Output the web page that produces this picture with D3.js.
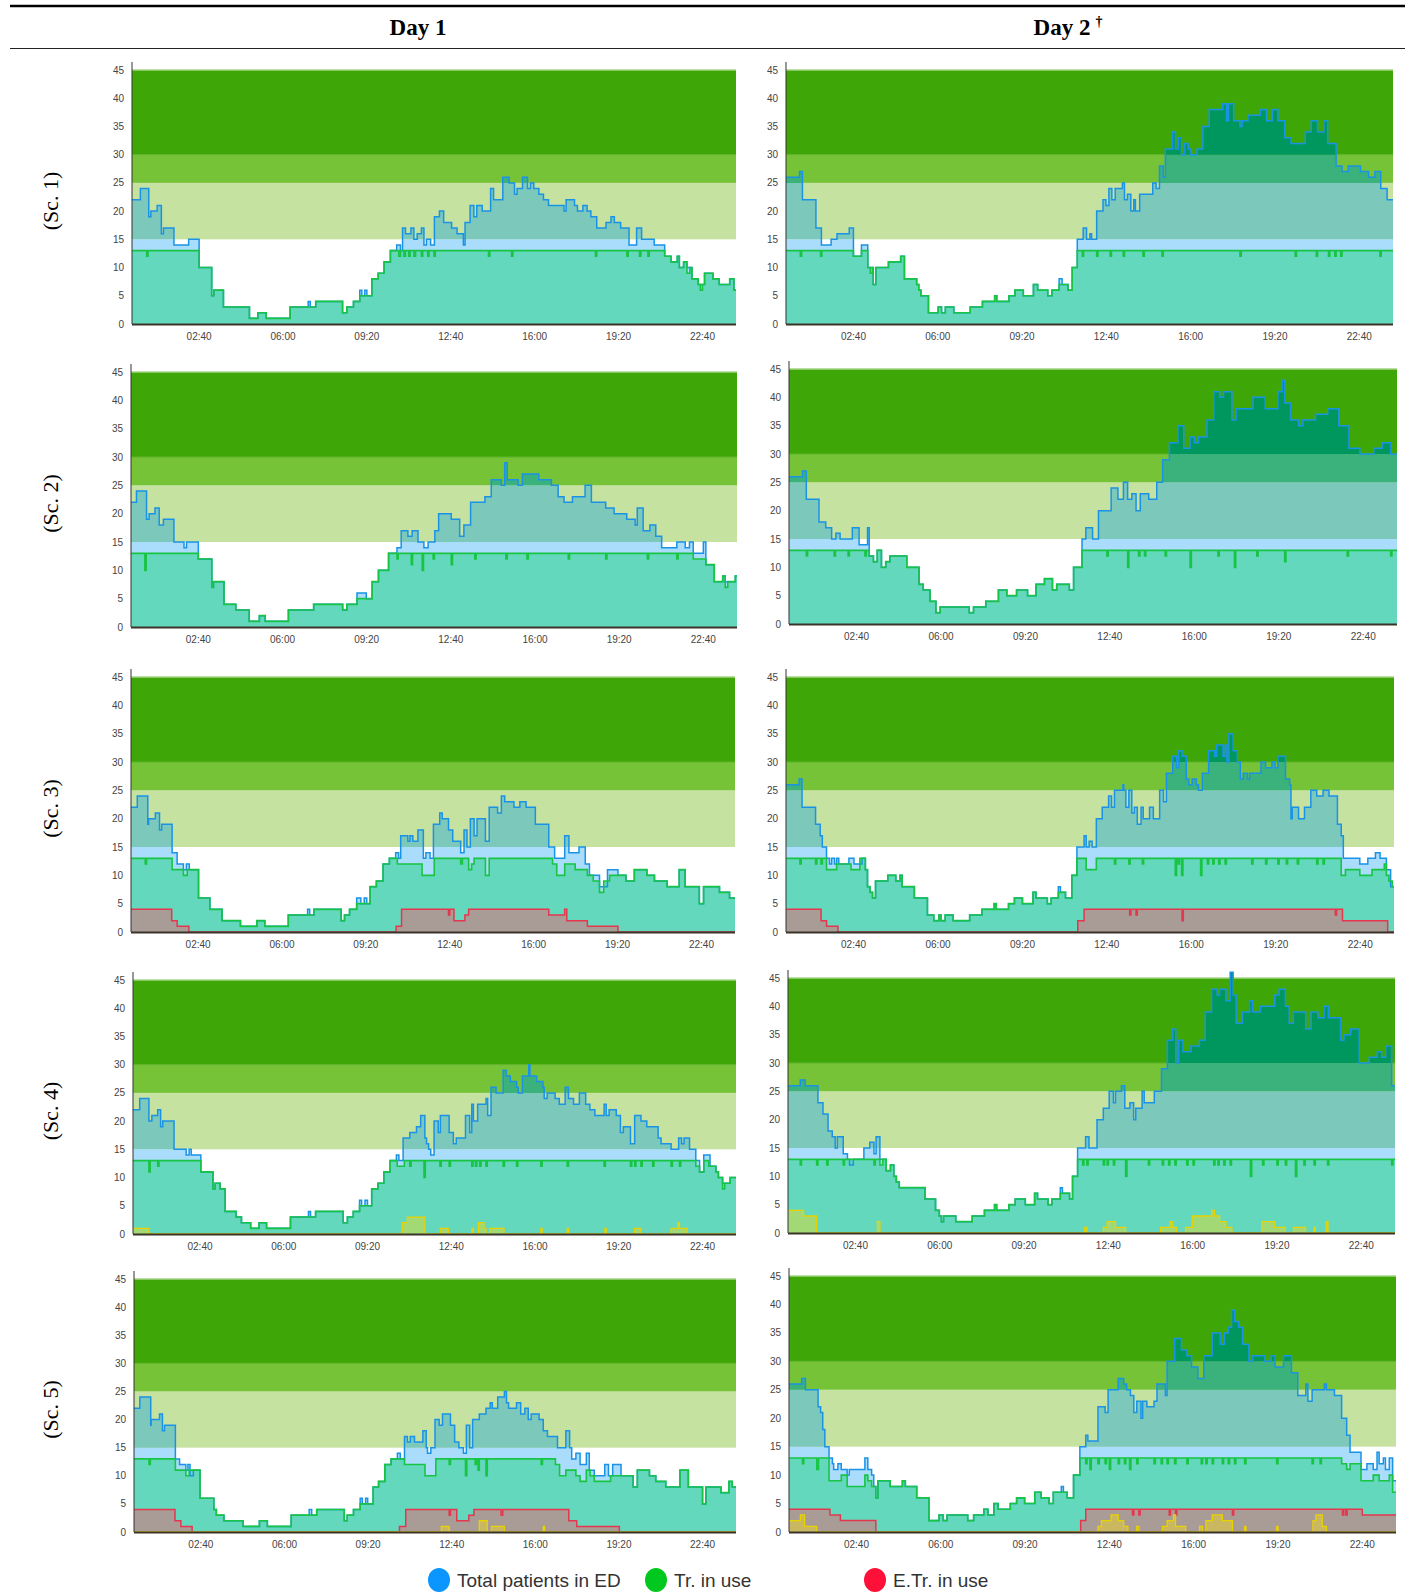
<!DOCTYPE html>
<html>
<head>
<meta charset="utf-8">
<script src="https://cdn.jsdelivr.net/npm/d3@7"></script>
<style>
  body { margin: 0; background: #fff; }
  svg { display: block; }
</style>
</head>
<body>
<svg id="chart"></svg>
<script>
const width = 1410;
const height = 1593;

// ---- labels ----
const dayLabels = ["Day 1", "Day 2"];
const scenarioLabels = ["(Sc. 1)", "(Sc. 2)", "(Sc. 3)", "(Sc. 4)", "(Sc. 5)"];
const legendLabels = ["Total patients in ED", "Tr. in use", "E.Tr. in use"];
const yTicks = [0, 5, 10, 15, 20, 25, 30, 35, 40, 45];
const xTickMinutes = [160, 360, 560, 760, 960, 1160, 1360];
const xTickLabels = ["02:40", "06:00", "09:20", "12:40", "16:00", "19:20", "22:40"];
const bandLimits = [0, 15, 25, 30, 45];

// ---- series: [minute of day, value] change points (step after) ----
const sc1Day1Total = [[0,22],[20,24],[40,19],[45,20],[60,21],[70,16],[75,17],[100,14],[135,15],[160,10],[190,5],[195,6],[218,3],[280,1],[300,2],[320,1],[377,3],[420,4],[425,3],[438,4],[502,2],[512,3],[528,4],[543,6],[548,5],[555,6],[560,5],[572,8],[587,9],[601,11],[616,13],[631,14],[640,13],[645,17],[652,16],[665,17],[672,15],[680,16],[690,17],[696,14],[702,15],[712,14],[721,19],[733,20],[743,18],[762,17],[775,16],[790,14],[794,18],[806,21],[815,19],[822,21],[835,20],[855,24],[862,22],[884,26],[899,25],[912,23],[918,24],[931,26],[943,24],[950,25],[958,24],[970,23],[981,22],[993,21],[1030,20],[1035,22],[1055,21],[1062,20],[1075,21],[1085,20],[1094,19],[1108,17],[1130,18],[1142,19],[1150,18],[1165,17],[1185,14],[1203,17],[1215,15],[1245,14],[1270,12],[1285,11],[1300,12],[1305,10],[1315,11],[1323,10],[1335,8],[1350,7],[1365,9],[1385,8],[1400,7],[1425,8],[1435,6]];
const sc1Day1Tr = [[0,13],[35,12],[38,13],[160,10],[190,5],[195,6],[218,3],[280,1],[300,2],[320,1],[377,3],[438,4],[502,2],[512,3],[528,4],[543,5],[572,8],[587,9],[601,11],[616,13],[636,12],[640,13],[648,12],[652,13],[660,12],[663,13],[672,12],[676,13],[690,12],[693,13],[705,12],[708,13],[720,12],[723,13],[850,12],[853,13],[905,12],[908,13],[1105,12],[1108,13],[1180,12],[1183,13],[1210,12],[1213,13],[1230,12],[1233,13],[1270,12],[1285,11],[1300,12],[1305,10],[1315,11],[1323,9],[1330,10],[1335,8],[1350,7],[1355,6],[1360,7],[1365,9],[1385,8],[1400,7],[1425,8],[1435,6]];

const sc1Day2Total = [[0,26],[32,27],[39,22],[71,17],[84,14],[107,15],[121,16],[150,17],[160,12],[179,14],[194,10],[207,7],[213,10],[243,11],[272,12],[281,8],[310,7],[315,6],[320,5],[338,2],[361,3],[369,2],[378,3],[398,2],[437,3],[466,4],[495,5],[500,4],[529,5],[543,6],[563,5],[587,7],[597,6],[621,5],[631,6],[648,8],[655,7],[669,6],[679,10],[691,15],[705,17],[713,15],[721,16],[725,15],[737,20],[752,22],[759,21],[766,24],[773,22],[781,24],[798,25],[803,22],[810,23],[818,20],[825,22],[829,20],[839,23],[870,25],[878,24],[886,28],[895,26],[900,31],[917,34],[924,31],[931,33],[938,30],[946,32],[954,31],[960,30],[975,31],[989,35],[1004,38],[1036,39],[1045,36],[1050,39],[1062,36],[1077,35],[1082,36],[1096,37],[1125,38],[1140,36],[1154,38],[1167,36],[1183,33],[1198,32],[1232,34],[1246,36],[1261,34],[1276,36],[1285,32],[1305,28],[1319,27],[1334,28],[1363,27],[1382,26],[1397,27],[1411,24],[1426,22]];
const sc1Day2Tr = [[0,13],[34,12],[37,13],[82,12],[85,13],[160,12],[179,13],[194,10],[200,9],[205,10],[207,7],[213,10],[243,11],[272,12],[281,8],[310,7],[315,6],[320,5],[338,2],[361,3],[369,2],[378,3],[398,2],[437,3],[466,4],[495,5],[500,4],[529,5],[543,6],[563,5],[587,7],[597,6],[621,5],[631,6],[648,7],[669,6],[679,10],[691,13],[703,12],[706,13],[737,12],[740,13],[769,12],[772,13],[800,12],[803,13],[847,12],[850,13],[892,12],[895,13],[1077,12],[1080,13],[1208,12],[1211,13],[1258,12],[1261,13],[1287,12],[1290,13],[1302,12],[1305,13],[1316,12],[1319,13],[1409,12],[1412,13]];

const sc2Day1Total = [[0,22],[13,24],[37,19],[43,20],[57,21],[67,18],[77,19],[102,15],[126,14],[132,15],[160,12],[192,7],[196,8],[221,4],[249,3],[281,1],[305,2],[319,1],[374,3],[434,4],[503,3],[513,4],[537,6],[559,5],[573,8],[588,10],[612,13],[632,14],[642,17],[658,16],[668,17],[682,15],[696,14],[706,15],[722,17],[731,20],[761,19],[781,16],[791,18],[807,22],[841,23],[856,26],[880,25],[888,29],[894,26],[920,25],[930,27],[969,26],[999,25],[1015,23],[1029,22],[1049,23],[1079,25],[1094,22],[1128,21],[1148,20],[1178,19],[1198,18],[1203,21],[1217,17],[1233,18],[1247,16],[1261,14],[1297,15],[1317,14],[1327,15],[1336,13],[1360,15],[1366,11],[1386,8],[1406,9],[1412,8],[1436,9]];
const sc2Day1Tr = [[0,13],[33,10],[36,13],[160,12],[192,7],[196,8],[221,4],[249,3],[281,1],[305,2],[319,1],[374,3],[434,4],[503,3],[513,4],[537,5],[573,8],[588,10],[612,13],[632,12],[635,13],[666,11],[669,13],[692,10],[695,13],[718,12],[721,13],[761,11],[764,13],[817,12],[820,13],[891,12],[894,13],[941,12],[944,13],[1039,12],[1042,13],[1128,12],[1131,13],[1227,12],[1230,13],[1297,12],[1300,13],[1336,12],[1366,11],[1386,8],[1406,9],[1412,7],[1418,8],[1436,9]];

const sc2Day2Total = [[0,26],[32,27],[41,22],[71,18],[87,17],[101,15],[111,16],[121,15],[150,17],[166,14],[186,17],[190,12],[200,11],[209,13],[219,10],[229,11],[239,12],[279,10],[308,7],[318,6],[334,4],[348,2],[358,3],[427,2],[437,3],[466,4],[496,6],[516,5],[539,6],[565,5],[585,7],[605,8],[624,6],[634,7],[664,6],[674,10],[694,15],[703,17],[719,15],[733,20],[763,24],[779,22],[792,25],[802,22],[812,23],[822,20],[832,23],[852,22],[871,25],[885,29],[901,32],[921,35],[935,31],[950,33],[960,32],[970,33],[990,36],[1006,41],[1020,40],[1029,41],[1049,36],[1059,38],[1099,40],[1128,38],[1158,41],[1168,43],[1174,39],[1188,36],[1207,35],[1217,36],[1247,37],[1276,38],[1302,35],[1326,31],[1352,30],[1385,31],[1405,32],[1425,30]];
const sc2Day2Tr = [[0,13],[41,12],[44,13],[107,12],[110,13],[140,12],[143,13],[180,12],[183,13],[190,12],[200,11],[209,13],[219,10],[229,11],[239,12],[279,10],[308,7],[318,6],[334,4],[348,2],[358,3],[427,2],[437,3],[466,4],[496,6],[516,5],[539,6],[565,5],[585,7],[605,8],[624,6],[634,7],[664,6],[674,10],[694,13],[753,12],[756,13],[802,10],[805,13],[828,12],[831,13],[842,12],[845,13],[891,12],[894,13],[950,10],[953,13],[1016,12],[1019,13],[1055,10],[1058,13],[1108,12],[1111,13],[1174,11],[1177,13],[1322,12],[1325,13],[1425,12],[1428,13]];

const sc3Day1Total = [[0,22],[15,24],[40,19],[42,20],[58,21],[68,18],[73,19],[98,14],[110,12],[125,11],[132,12],[139,11],[161,6],[188,4],[217,2],[261,1],[300,2],[319,1],[375,3],[421,4],[426,3],[436,4],[501,2],[509,3],[521,4],[538,6],[548,5],[556,6],[562,5],[570,8],[585,9],[601,12],[616,13],[631,14],[638,13],[643,17],[660,16],[665,17],[672,16],[684,18],[697,13],[703,14],[713,13],[721,19],[736,21],[742,20],[757,18],[767,16],[786,14],[794,18],[801,15],[809,20],[818,17],[825,20],[845,16],[854,22],[874,21],[883,24],[891,23],[913,22],[927,23],[942,22],[964,19],[996,15],[1010,13],[1034,17],[1044,14],[1068,15],[1083,12],[1093,10],[1117,8],[1136,11],[1161,10],[1180,9],[1200,11],[1230,10],[1248,9],[1278,8],[1307,11],[1321,8],[1355,5],[1365,8],[1403,7],[1427,6]];
const sc3Day1Tr = [[0,13],[34,12],[37,13],[98,11],[125,10],[134,11],[161,6],[188,4],[217,2],[261,1],[300,2],[319,1],[375,3],[436,4],[501,2],[509,3],[521,4],[538,5],[570,8],[585,9],[601,12],[616,13],[635,12],[694,10],[723,13],[786,12],[790,13],[805,11],[812,12],[818,13],[845,10],[854,13],[1005,12],[1015,10],[1034,12],[1059,11],[1088,10],[1102,9],[1117,7],[1127,9],[1141,10],[1180,9],[1200,11],[1230,10],[1248,9],[1278,8],[1307,11],[1321,8],[1355,5],[1365,8],[1403,7],[1427,6]];
const sc3Day1ETr = [[0,4],[97,2],[110,1],[138,0],[632,1],[645,4],[757,3],[760,4],[770,2],[796,3],[805,4],[996,3],[1034,4],[1039,2],[1088,1],[1161,0]];

const sc3Day2Total = [[0,26],[31,27],[38,22],[70,19],[81,17],[86,15],[96,13],[103,12],[108,13],[115,12],[120,13],[125,12],[149,13],[161,12],[180,13],[188,11],[193,8],[199,7],[205,6],[212,9],[241,10],[260,9],[270,10],[275,8],[304,6],[335,3],[350,2],[362,3],[367,2],[377,3],[396,2],[435,3],[464,4],[493,5],[498,4],[527,5],[541,6],[560,5],[585,7],[592,6],[619,5],[628,6],[645,8],[650,7],[662,6],[677,10],[689,15],[706,17],[711,15],[718,16],[725,15],[735,20],[749,22],[764,24],[771,22],[778,25],[798,26],[800,25],[805,22],[812,25],[819,21],[825,22],[832,19],[841,22],[846,20],[861,22],[870,20],[885,25],[894,23],[901,28],[916,31],[925,29],[930,32],[938,31],[948,27],[954,26],[962,27],[972,26],[977,25],[986,28],[1001,32],[1015,31],[1020,33],[1035,31],[1040,33],[1044,30],[1049,35],[1059,32],[1069,30],[1076,27],[1083,28],[1093,27],[1098,28],[1125,30],[1136,29],[1151,30],[1158,29],[1165,31],[1183,27],[1193,26],[1196,20],[1199,22],[1214,20],[1228,22],[1243,25],[1257,24],[1272,25],[1286,24],[1306,19],[1315,17],[1320,13],[1359,12],[1378,13],[1396,14],[1407,13],[1422,11],[1432,8]];
const sc3Day2Tr = [[0,13],[33,12],[36,13],[70,12],[73,13],[83,12],[86,13],[96,11],[120,12],[154,11],[175,13],[188,11],[193,8],[199,7],[205,6],[212,9],[241,10],[260,9],[270,10],[275,8],[304,6],[335,3],[350,2],[362,3],[367,2],[377,3],[396,2],[435,3],[464,4],[493,5],[498,4],[527,5],[541,6],[560,5],[585,7],[592,6],[619,5],[628,6],[645,7],[662,6],[677,10],[689,13],[711,11],[735,13],[778,12],[781,13],[812,12],[815,13],[844,12],[847,13],[922,10],[925,13],[929,12],[932,13],[937,10],[940,13],[982,10],[985,13],[998,12],[1001,13],[1011,12],[1014,13],[1025,12],[1028,13],[1040,12],[1043,13],[1103,12],[1106,13],[1136,12],[1139,13],[1165,12],[1168,13],[1185,12],[1188,13],[1211,12],[1214,13],[1257,12],[1260,13],[1272,12],[1275,13],[1315,10],[1325,11],[1359,10],[1388,11],[1417,12],[1422,10],[1428,9],[1436,8]];
const sc3Day2ETr = [[0,4],[83,2],[96,1],[123,0],[691,2],[706,4],[814,3],[817,4],[829,3],[832,4],[938,2],[941,4],[1301,3],[1304,4],[1318,2],[1425,0]];

const sc4Day1Total = [[0,22],[16,24],[38,20],[45,21],[59,22],[66,19],[71,20],[98,15],[127,14],[134,15],[139,14],[162,11],[191,8],[196,9],[208,8],[220,4],[246,3],[259,2],[281,1],[301,2],[319,1],[376,3],[419,4],[424,3],[436,4],[502,2],[512,3],[526,4],[541,6],[546,5],[554,6],[560,5],[570,8],[585,9],[599,11],[614,13],[629,14],[635,13],[645,17],[661,18],[677,19],[687,21],[697,17],[701,16],[706,15],[711,14],[719,20],[729,18],[734,21],[755,18],[765,16],[772,17],[794,21],[804,18],[809,23],[813,20],[823,23],[843,24],[847,21],[855,26],[867,25],[884,29],[891,28],[901,27],[916,26],[920,25],[930,28],[945,30],[948,28],[964,27],[979,26],[982,24],[989,25],[1008,24],[1018,23],[1032,26],[1040,24],[1052,23],[1066,25],[1081,23],[1091,22],[1103,21],[1125,23],[1130,21],[1137,22],[1154,21],[1164,18],[1171,19],[1188,16],[1198,21],[1213,20],[1227,19],[1254,17],[1261,16],[1285,15],[1303,17],[1310,16],[1316,17],[1329,15],[1344,13],[1353,11],[1363,14],[1378,12],[1392,11],[1398,10],[1408,9],[1426,10]];
const sc4Day1Tr = [[0,13],[38,11],[41,13],[59,12],[62,13],[162,11],[191,8],[196,9],[208,8],[220,4],[246,3],[259,2],[281,1],[301,2],[319,1],[376,3],[436,4],[502,2],[512,3],[526,4],[541,5],[570,8],[585,9],[599,11],[614,13],[631,12],[648,13],[661,12],[664,13],[695,10],[698,13],[733,12],[736,13],[755,12],[758,13],[809,12],[812,13],[818,12],[821,13],[828,12],[831,13],[843,12],[846,13],[884,12],[887,13],[916,12],[919,13],[974,12],[977,13],[1037,12],[1040,13],[1125,12],[1128,13],[1188,12],[1191,13],[1198,12],[1201,13],[1213,12],[1216,13],[1241,12],[1244,13],[1285,12],[1288,13],[1305,12],[1308,13],[1344,12],[1353,11],[1363,13],[1375,12],[1392,11],[1398,10],[1408,8],[1413,9],[1426,10]];
const sc4Day1Yel = [[0,1],[38,0],[643,2],[655,3],[697,0],[734,1],[753,0],[809,1],[813,0],[825,2],[838,1],[843,0],[852,1],[886,0],[974,1],[977,0],[1037,1],[1040,0],[1127,1],[1130,0],[1198,1],[1213,0],[1285,1],[1301,2],[1305,1],[1323,0]];

const sc4Day2Total = [[0,26],[29,27],[41,26],[71,23],[83,21],[95,18],[105,17],[112,15],[117,17],[131,14],[141,13],[146,12],[155,13],[180,15],[194,16],[204,14],[209,17],[218,13],[233,11],[243,12],[251,10],[257,9],[264,8],[325,6],[350,4],[359,3],[364,2],[369,3],[398,2],[437,3],[466,4],[490,5],[495,4],[524,5],[539,6],[563,5],[585,7],[592,6],[617,5],[626,6],[646,8],[651,7],[668,6],[675,10],[687,15],[706,17],[714,15],[733,20],[748,22],[762,25],[772,23],[777,25],[791,26],[799,22],[811,23],[820,20],[825,22],[840,25],[845,23],[869,25],[886,29],[900,34],[913,36],[920,30],[927,34],[937,32],[956,33],[976,34],[990,39],[1005,43],[1018,42],[1024,43],[1039,41],[1049,46],[1056,42],[1063,37],[1078,39],[1095,41],[1102,39],[1121,40],[1155,42],[1165,43],[1180,40],[1189,37],[1199,39],[1228,36],[1241,39],[1257,38],[1272,40],[1282,38],[1311,34],[1319,35],[1335,36],[1355,30],[1379,31],[1398,32],[1408,31],[1418,33],[1432,26]];
const sc4Day2Tr = [[0,13],[29,12],[32,13],[68,12],[71,13],[92,12],[95,13],[131,12],[134,13],[204,12],[207,13],[218,12],[225,13],[233,11],[243,12],[251,10],[257,9],[264,8],[325,6],[350,4],[359,3],[364,2],[369,3],[398,2],[437,3],[466,4],[490,5],[495,4],[524,5],[539,6],[563,5],[585,7],[592,6],[617,5],[626,6],[646,7],[668,6],[675,10],[687,13],[699,12],[702,13],[709,12],[712,13],[748,12],[751,13],[757,12],[760,13],[772,12],[775,13],[801,10],[804,13],[855,12],[858,13],[888,12],[891,13],[903,12],[906,13],[918,12],[921,13],[946,12],[949,13],[961,12],[964,13],[1010,12],[1013,13],[1020,12],[1023,13],[1034,12],[1037,13],[1049,12],[1052,13],[1097,10],[1100,13],[1126,12],[1129,13],[1160,12],[1163,13],[1180,12],[1183,13],[1204,10],[1207,13],[1224,12],[1227,13],[1248,12],[1251,13],[1280,12],[1283,13],[1432,12],[1435,13]];
const sc4Day2Yel = [[0,4],[37,3],[68,0],[212,2],[218,0],[704,1],[709,0],[748,1],[757,2],[777,1],[801,0],[884,1],[906,2],[913,1],[922,0],[943,1],[959,3],[1005,4],[1012,3],[1024,2],[1039,1],[1053,0],[1124,2],[1155,1],[1180,0],[1199,1],[1228,0],[1248,1],[1251,0],[1277,2],[1281,0]];

const sc5Day1Total = [[0,22],[14,24],[40,19],[41,20],[61,21],[68,18],[73,19],[99,13],[109,12],[124,11],[129,12],[134,10],[142,11],[158,6],[191,4],[197,3],[215,2],[261,1],[300,2],[319,1],[376,3],[419,4],[425,3],[437,4],[503,2],[510,3],[525,4],[541,6],[546,5],[554,6],[559,5],[572,8],[585,9],[600,12],[615,13],[630,14],[637,13],[647,17],[654,16],[661,17],[671,16],[691,18],[699,15],[702,14],[710,15],[720,20],[730,19],[738,21],[757,19],[767,16],[777,15],[788,14],[795,19],[803,15],[810,20],[826,21],[842,22],[852,23],[857,22],[870,24],[886,25],[891,23],[896,22],[915,23],[925,21],[935,22],[943,20],[950,21],[969,20],[979,18],[989,17],[1013,15],[1033,18],[1042,15],[1047,13],[1057,14],[1067,12],[1082,14],[1089,11],[1101,10],[1126,12],[1135,10],[1145,12],[1165,10],[1194,8],[1204,11],[1233,10],[1248,9],[1272,8],[1306,11],[1326,8],[1360,5],[1368,8],[1404,7],[1423,9],[1431,8]];
const sc5Day1Tr = [[0,13],[36,12],[39,13],[99,11],[124,10],[132,11],[158,6],[191,4],[197,3],[215,2],[261,1],[300,2],[319,1],[376,3],[437,4],[503,2],[510,3],[525,4],[541,5],[572,8],[585,9],[600,12],[615,13],[647,12],[696,10],[722,13],[754,12],[757,13],[793,10],[796,13],[816,12],[819,13],[823,11],[826,13],[842,10],[845,13],[974,12],[977,13],[1008,12],[1018,10],[1033,11],[1057,10],[1067,9],[1082,11],[1091,10],[1101,9],[1140,10],[1165,10],[1194,8],[1204,11],[1233,10],[1248,9],[1272,8],[1306,11],[1326,8],[1360,5],[1368,8],[1404,7],[1423,9],[1431,8]];
const sc5Day1ETr = [[0,4],[98,2],[112,1],[139,0],[635,1],[650,4],[754,3],[757,4],[772,2],[801,3],[813,4],[878,3],[882,4],[1040,2],[1059,1],[1161,0]];
const sc5Day1Yel = [[0,0],[735,1],[754,0],[826,2],[845,0],[855,1],[886,0],[979,1],[982,0]];

const sc5Day2Total = [[0,26],[30,27],[39,25],[69,22],[75,21],[80,18],[85,15],[95,13],[103,12],[106,11],[116,12],[124,11],[138,10],[143,11],[180,13],[187,11],[196,10],[201,8],[206,6],[211,9],[240,8],[269,9],[276,8],[303,6],[332,2],[356,3],[366,2],[375,3],[424,2],[438,3],[462,4],[472,3],[486,5],[496,4],[525,5],[540,6],[559,5],[583,7],[598,6],[617,5],[627,7],[646,8],[651,7],[660,6],[675,10],[690,15],[704,17],[709,16],[733,22],[750,21],[757,25],[781,27],[794,26],[801,25],[810,24],[818,21],[825,23],[835,20],[839,23],[849,22],[866,23],[873,26],[893,24],[897,30],[915,34],[931,32],[944,31],[955,29],[970,27],[984,31],[1004,35],[1023,33],[1033,35],[1042,36],[1050,39],[1057,37],[1067,36],[1076,33],[1091,30],[1100,31],[1129,30],[1144,31],[1153,29],[1173,31],[1192,28],[1207,24],[1226,26],[1231,23],[1241,25],[1270,26],[1275,25],[1294,24],[1311,20],[1323,17],[1331,14],[1357,11],[1371,12],[1386,11],[1395,14],[1400,12],[1410,13],[1415,11],[1424,13],[1432,9]];
const sc5Day2Tr = [[0,13],[32,12],[35,13],[66,11],[70,13],[95,9],[124,10],[138,8],[180,10],[187,9],[196,8],[206,6],[211,9],[240,8],[269,9],[276,8],[303,6],[332,2],[356,3],[366,2],[375,3],[424,2],[438,3],[462,4],[472,3],[486,5],[496,4],[525,5],[540,6],[559,5],[583,7],[598,6],[617,5],[627,7],[660,6],[675,10],[690,13],[704,12],[707,13],[714,11],[717,13],[733,12],[736,13],[750,12],[753,13],[760,11],[763,13],[781,12],[784,13],[796,12],[799,13],[808,11],[811,13],[825,12],[828,13],[866,12],[869,13],[883,12],[886,13],[897,12],[900,13],[915,12],[918,13],[944,12],[947,13],[978,12],[981,13],[989,12],[992,13],[1004,12],[1007,13],[1028,12],[1031,13],[1042,12],[1045,13],[1057,12],[1060,13],[1081,12],[1084,13],[1157,12],[1160,13],[1241,12],[1244,13],[1260,12],[1263,13],[1311,12],[1323,11],[1331,12],[1357,9],[1386,10],[1400,9],[1424,10],[1432,7]];
const sc5Day2ETr = [[0,4],[97,3],[122,2],[206,0],[692,2],[704,4],[815,3],[818,4],[830,3],[833,4],[902,3],[905,4],[917,3],[920,4],[1052,3],[1055,4],[1313,3],[1316,4],[1321,3],[1324,4],[1360,3]];
const sc5Day2Yel = [[0,2],[27,3],[37,1],[66,0],[733,1],[741,2],[764,3],[781,2],[794,1],[804,0],[825,1],[830,0],[886,1],[897,2],[912,3],[917,1],[941,0],[974,1],[981,0],[989,2],[1004,3],[1028,2],[1052,0],[1081,1],[1084,0],[1157,1],[1160,0],[1243,2],[1250,3],[1265,1],[1275,0]];

// one entry per panel, row by row
const panels = [
  { total: sc1Day1Total, tr: sc1Day1Tr },
  { total: sc1Day2Total, tr: sc1Day2Tr },
  { total: sc2Day1Total, tr: sc2Day1Tr },
  { total: sc2Day2Total, tr: sc2Day2Tr },
  { total: sc3Day1Total, tr: sc3Day1Tr, etr: sc3Day1ETr },
  { total: sc3Day2Total, tr: sc3Day2Tr, etr: sc3Day2ETr },
  { total: sc4Day1Total, tr: sc4Day1Tr, yel: sc4Day1Yel },
  { total: sc4Day2Total, tr: sc4Day2Tr, yel: sc4Day2Yel },
  { total: sc5Day1Total, tr: sc5Day1Tr, etr: sc5Day1ETr, yel: sc5Day1Yel },
  { total: sc5Day2Total, tr: sc5Day2Tr, etr: sc5Day2ETr, yel: sc5Day2Yel }
];

// panel boxes: [left, right, y of 0, y of 45]
const boxes = [
  [132, 736, 324, 70], [786, 1393, 324, 70],
  [131, 737, 627, 372], [789, 1397, 624, 369],
  [131, 735, 932, 677], [786, 1394, 932, 677],
  [133, 736, 1234, 980], [788, 1395, 1233, 978],
  [134, 736, 1532, 1279], [789, 1396, 1532, 1276]
];

// band fills and the total-patients fill seen over each band (low to high)
const bandFill = ["#ffffff", "#c6e2a0", "#77c338", "#3ea606"];
const totalFill = ["#aadcfb", "#7cc8bb", "#3bb27b", "#00975f"];

const svg = d3.select("#chart").attr("width", width).attr("height", height);
const defs = svg.append("defs");
const sans = "'Liberation Sans', Arial, sans-serif";
const serif = "'Liberation Serif', 'Times New Roman', serif";

// header rules and titles
svg.append("line").attr("x1", 10).attr("x2", 1405).attr("y1", 6).attr("y2", 6)
  .attr("stroke", "#000").attr("stroke-width", 2.5);
svg.append("line").attr("x1", 10).attr("x2", 1405).attr("y1", 48.5).attr("y2", 48.5)
  .attr("stroke", "#222").attr("stroke-width", 1.2);

svg.append("text").attr("x", 418).attr("y", 35).attr("text-anchor", "middle")
  .attr("font-family", serif).attr("font-weight", "bold").attr("font-size", "23px")
  .text(dayLabels[0]);
const d2 = svg.append("text").attr("x", 1068).attr("y", 35).attr("text-anchor", "middle")
  .attr("font-family", serif).attr("font-weight", "bold").attr("font-size", "23px");
d2.append("tspan").text(dayLabels[1]);
d2.append("tspan").attr("dx", 5).attr("dy", -9).attr("font-size", "14px").text("\u2020");

const ext = (s) => s.concat([[1440, s[s.length - 1][1]]]);

panels.forEach((p, i) => {
  const [x0, x1, yb, yt] = boxes[i];
  const x = d3.scaleLinear().domain([0, 1440]).range([x0, x1]);
  const y = d3.scaleLinear().domain([0, 45]).range([yb, yt]);
  const g = svg.append("g");

  // bands
  for (let k = 0; k < 4; k++) {
    g.append("rect")
      .attr("x", x0).attr("width", x1 - x0)
      .attr("y", y(bandLimits[k + 1])).attr("height", y(bandLimits[k]) - y(bandLimits[k + 1]))
      .attr("fill", bandFill[k]);
  }
  g.append("line").attr("x1", x0).attr("x2", x1).attr("y1", y(45)).attr("y2", y(45))
    .attr("stroke", "#a6d587").attr("stroke-width", 1.5);
  g.append("line").attr("x1", x0).attr("x2", x1).attr("y1", y(30)).attr("y2", y(30))
    .attr("stroke", "#5fb42a").attr("stroke-width", 1);

  const area = d3.area().curve(d3.curveStepAfter)
    .x((d) => x(d[0])).y0(y(0)).y1((d) => y(d[1]));
  const line = d3.line().curve(d3.curveStepAfter)
    .x((d) => x(d[0])).y((d) => y(d[1]));

  // total patients fill, coloured per band
  const total = ext(p.total);
  for (let k = 0; k < 4; k++) {
    const id = `clip-${i}-${k}`;
    const top = k === 3 ? y(50) : y(bandLimits[k + 1]);
    const bottom = k === 0 ? y(0) : y(bandLimits[k]);
    defs.append("clipPath").attr("id", id).append("rect")
      .attr("x", x0).attr("width", x1 - x0)
      .attr("y", top).attr("height", bottom - top);
    g.append("path").datum(total).attr("d", area)
      .attr("fill", totalFill[k]).attr("clip-path", `url(#${id})`);
  }

  const tr = ext(p.tr);
  g.append("path").datum(tr).attr("d", area).attr("fill", "#64d8bc");

  if (p.etr) {
    g.append("path").datum(ext(p.etr)).attr("d", area).attr("fill", "#a99b96");
  }
  if (p.yel) {
    g.append("path").datum(ext(p.yel)).attr("d", area)
      .attr("fill", "#f0dc1e").attr("fill-opacity", 0.45);
  }

  g.append("path").datum(total).attr("d", line)
    .attr("fill", "none").attr("stroke", "#1a93e6").attr("stroke-width", 1.5);
  g.append("path").datum(tr).attr("d", line)
    .attr("fill", "none").attr("stroke", "#18c444").attr("stroke-width", 1.6);
  if (p.etr) {
    g.append("path").datum(ext(p.etr)).attr("d", line)
      .attr("fill", "none").attr("stroke", "#e5364e").attr("stroke-width", 1.5);
  }
  if (p.yel) {
    g.append("path").datum(ext(p.yel)).attr("d", line)
      .attr("fill", "none").attr("stroke", "#e8d200").attr("stroke-width", 1.3);
  }

  // axes
  g.append("line").attr("x1", x0).attr("x2", x0).attr("y1", yt - 8).attr("y2", yb)
    .attr("stroke", "#333").attr("stroke-width", 1);
  g.append("line").attr("x1", x0).attr("x2", x1).attr("y1", yb + 0.5).attr("y2", yb + 0.5)
    .attr("stroke", "#3a3328").attr("stroke-width", 2);

  g.selectAll(".ytick").data(yTicks).enter().append("text")
    .attr("x", x0 - 8).attr("y", (d) => y(d) + 3.5)
    .attr("text-anchor", "end").attr("font-family", sans).attr("font-size", "10px")
    .attr("fill", "#444").text((d) => d);

  g.selectAll(".xtick").data(xTickMinutes).enter().append("text")
    .attr("x", (d) => x(d)).attr("y", yb + 16)
    .attr("text-anchor", "middle").attr("font-family", sans).attr("font-size", "10px")
    .attr("fill", "#444").text((d, j) => xTickLabels[j]);

  // scenario label on the left column only
  if (i % 2 === 0) {
    const cy = (yb + yt) / 2 + 4;
    svg.append("text")
      .attr("transform", `translate(50,${cy}) rotate(-90)`)
      .attr("text-anchor", "middle").attr("dominant-baseline", "central")
      .attr("font-family", serif).attr("font-size", "22px")
      .text(scenarioLabels[i / 2]);
  }
});

// legend
const legendColors = ["#0b96ff", "#00c81e", "#ff1038"];
const legendX = [439, 656, 875];
const legend = svg.selectAll(".legend").data(legendLabels).enter().append("g")
  .attr("transform", (d, i) => `translate(${legendX[i]},1580)`);
legend.append("ellipse").attr("rx", 11).attr("ry", 12)
  .attr("fill", (d, i) => legendColors[i]);
legend.append("text").attr("x", 18).attr("y", 7)
  .attr("font-family", sans).attr("font-size", "19px").attr("fill", "#333")
  .text((d) => d);
</script>
</body>
</html>
